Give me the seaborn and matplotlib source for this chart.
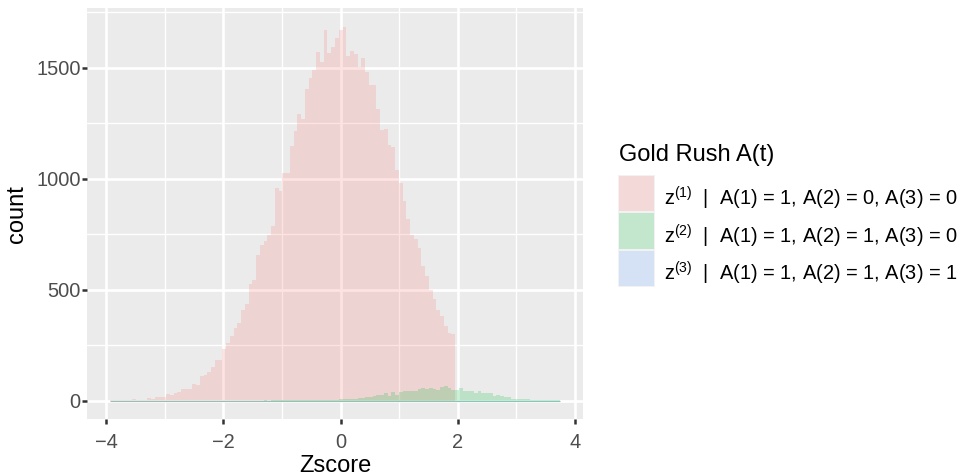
import numpy as np
import pandas as pd
import matplotlib
matplotlib.use("Agg")
import matplotlib.pyplot as plt
import matplotlib.colors as mcolors
from matplotlib.patches import Rectangle
from matplotlib.ticker import FixedLocator
import seaborn as sns

# ---------------- data ----------------
bin_start = -3.936
bin_width = 0.064
n_bins = 120

red_counts = [
    1, 1, 2, 2, 3, 2, 6, 3, 4, 5,
    10, 6, 15, 15, 15, 28, 24, 33, 39, 51,
    51, 51, 74, 69, 110, 114, 130, 152, 183, 183,
    233, 260, 291, 327, 350, 408, 435, 525, 543, 656,
    701, 720, 746, 787, 958, 944, 1024, 1024, 1147, 1215,
    1291, 1269, 1404, 1453, 1489, 1571, 1526, 1670, 1566, 1593,
    1634, 1670, 1683, 1554, 1575, 1562, 1502, 1544, 1481, 1422,
    1422, 1314, 1221, 1224, 1152, 1143, 1039, 980, 899, 818,
    746, 727, 686, 606, 561, 498, 458, 408, 381, 336,
    303, 300,
]

green_counts = [
    0, 0, 0, 0, 0, 0, 0, 0, 0, 0,
    0, 0, 0, 0, 0, 0, 0, 0, 0, 0,
    0, 0, 0, 0, 0, 0, 0, 0, 0, 0,
    0, 0, 0, 0, 0, 0, 0, 0, 0, 0,
    0, 1, 0, 1, 1, 1, 2, 1, 2, 2,
    3, 2, 3, 3, 4, 3, 4, 5, 4, 5,
    5, 6, 6, 7, 9, 9, 12, 12, 16, 16,
    21, 26, 26, 34, 19, 39, 26, 39, 44, 44,
    44, 44, 53, 57, 53, 57, 52, 48, 62, 66,
    57, 48, 48, 57, 44, 44, 44, 35, 44, 33,
    33, 33, 21, 26, 21, 17, 17, 8, 8, 6,
    6, 6, 3, 3, 3, 3, 3, 3, 3, 3,
]

blue_counts = [0] * n_bins

series_labels = [
    r"$\mathregular{z^{(1)}}$  |  A(1) = 1, A(2) = 0, A(3) = 0",
    r"$\mathregular{z^{(2)}}$  |  A(1) = 1, A(2) = 1, A(3) = 0",
    r"$\mathregular{z^{(3)}}$  |  A(1) = 1, A(2) = 1, A(3) = 1",
]
series_colors = ["#F8766D", "#00BA38", "#619CFF"]
legend_title = "Gold Rush A(t)"
x_label = "Zscore"
y_label = "count"
x_major = [-4, -2, 0, 2, 4]
x_minor = [-3, -1, 1, 3]
y_major = [0, 500, 1000, 1500]
y_minor = [250, 750, 1250, 1750]

# ---------------- build table ----------------
edges = bin_start + bin_width * np.arange(n_bins + 1)
centers = (edges[:-1] + edges[1:]) / 2

def pad(v):
    v = list(v)
    return v + [0] * (n_bins - len(v))

all_series = [pad(red_counts), pad(green_counts), pad(blue_counts)]
frames = []
for lab, cnt in zip(series_labels, all_series):
    frames.append(pd.DataFrame({"z": centers, "count": np.array(cnt, dtype=float),
                                "group": lab}))
df = pd.concat(frames, ignore_index=True)

# ---------------- style ----------------
sns.set_theme(style="darkgrid")
plt.rcParams["font.family"] = ["Liberation Sans", "DejaVu Sans"]
plt.rcParams["axes.unicode_minus"] = True

TEXT_PT = 14.4
TITLE_PT = 17.0

W, H = 958, 476
fig = plt.figure(figsize=(W / 100, H / 100), dpi=100)
fig.patch.set_facecolor("white")

left_px, right_px, top_px, bottom_px = 87.4, 582.6, 8.4, 419.3
ax = fig.add_axes([left_px / W, 1 - bottom_px / H,
                   (right_px - left_px) / W, (bottom_px - top_px) / H])
ax.set_facecolor("#EBEBEB")
ax.set_axisbelow(True)

for lab, col in zip(series_labels, series_colors):
    sub = df[df["group"] == lab]
    sns.histplot(data=sub, x="z", weights="count",
                 binwidth=bin_width, binrange=(float(edges[0]), float(edges[-1])),
                 color=col, alpha=0.2, linewidth=0, ax=ax, legend=False)

# zero-height bars show as a faint line along the base over the binned range
ax.hlines(0, edges[0], edges[-1], color="#8cc4bb", linewidth=0.8, zorder=3)

# ggplot-like 5% expansion
xr = edges[-1] - edges[0]
ax.set_xlim(edges[0] - 0.05 * xr, edges[-1] + 0.05 * xr)
ymax = max(max(s) for s in all_series)
ax.set_ylim(-0.05 * ymax, 1.05 * ymax)

ax.xaxis.set_major_locator(FixedLocator(x_major))
ax.xaxis.set_minor_locator(FixedLocator(x_minor))
ax.yaxis.set_major_locator(FixedLocator(y_major))
ax.yaxis.set_minor_locator(FixedLocator(y_minor))
ax.set_xticklabels([f"{v}".replace("-", "\u2212") for v in x_major])
ax.set_yticklabels([str(v) for v in y_major])

ax.grid(which="major", color="white", linewidth=1.9)
ax.grid(which="minor", color="white", linewidth=0.95)
for s in ax.spines.values():
    s.set_visible(False)

ax.tick_params(which="major", length=3.6, width=1.8, color="#333333",
               labelcolor="#4D4D4D", labelsize=TEXT_PT,
               bottom=True, left=True)
ax.tick_params(axis="x", which="major", pad=6.2)
ax.tick_params(axis="y", which="major", pad=1.2)
ax.tick_params(which="minor", length=0, bottom=False, left=False)

ax.set_xlabel(x_label, fontsize=TITLE_PT, color="black", labelpad=2.4)
ax.set_ylabel(y_label, fontsize=TITLE_PT, color="black", labelpad=6.0)

# ---------------- legend (ggplot-style keys) ----------------
grey95 = np.array(mcolors.to_rgb("#F2F2F2"))
key_left, key_top0, key_size, key_pitch = 617.8, 174.5, 37.6, 37.6
inset = 1.1
fig.text(619 / W, 1 - 160.7 / H, legend_title, fontsize=TITLE_PT,
         color="black", ha="left", va="baseline")
for i, (lab, col) in enumerate(zip(series_labels, series_colors)):
    top = key_top0 + i * key_pitch
    fig.patches.append(Rectangle((key_left / W, 1 - (top + key_size) / H),
                                 key_size / W, key_size / H,
                                 transform=fig.transFigure, facecolor="#F2F2F2",
                                 edgecolor="none"))
    c = np.array(mcolors.to_rgb(col))
    blend = 0.2 * c + 0.8 * grey95
    fig.patches.append(Rectangle(((key_left + inset) / W,
                                  1 - (top + key_size - inset) / H),
                                 (key_size - 2 * inset) / W,
                                 (key_size - 2 * inset) / H,
                                 transform=fig.transFigure, facecolor=blend,
                                 edgecolor="none"))
    fig.text(664 / W, 1 - (top + key_size - inset - 5.3) / H, lab,
             fontsize=TEXT_PT, color="black", ha="left", va="baseline")

fig.savefig("out.png", dpi=100)
